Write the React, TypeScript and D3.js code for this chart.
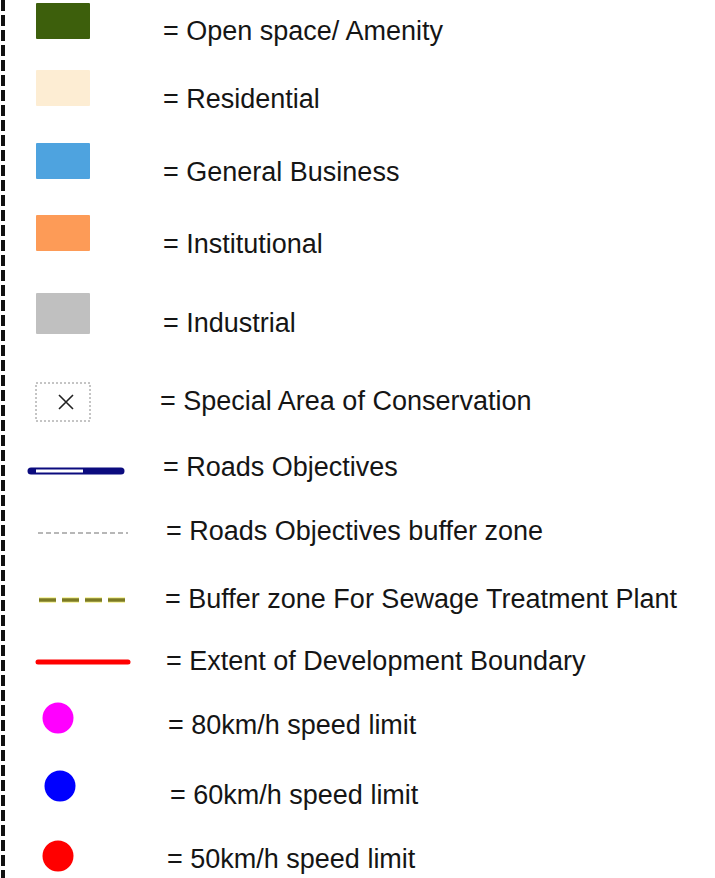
import React, { useEffect, useRef } from "react";
import * as d3 from "d3";

// land use zones (filled swatches)
const zoneLabels = [
  "Open space/ Amenity",
  "Residential",
  "General Business",
  "Institutional",
  "Industrial",
];
const zoneColors = ["#3d5f0c", "#fdedd3", "#4ea3df", "#fd9b57", "#c0c0c0"];

const conservationLabel = "Special Area of Conservation";

const lineLabels = [
  "Roads Objectives",
  "Roads Objectives buffer zone",
  "Buffer zone For Sewage Treatment Plant",
  "Extent of Development Boundary",
];

const speedLimits = [80, 60, 50];
const speedColors = ["#ff00ff", "#0000ff", "#ff0000"];

// layout (rows are not evenly spaced in the original)
const textY = [30, 98, 171, 243, 322, 400, 466, 530, 598, 660, 724, 794, 858];
const textX = [163, 163, 163, 163, 163, 160, 163, 166, 165, 166, 168, 170, 167];
const symY = [21, 88, 161, 233, 311, 402, 471, 533, 600, 662, 718, 786, 856];

const W = 715;
const H = 878;

const App = () => {
  const ref = useRef<SVGSVGElement>(null);

  useEffect(() => {
    const svg = d3.select(ref.current);
    svg.selectAll("*").remove();

    const allLabels = [
      ...zoneLabels,
      conservationLabel,
      ...lineLabels,
      ...speedLimits.map((s) => `${s}km/h speed limit`),
    ];

    const yText = d3.scaleOrdinal<string, number>().domain(allLabels).range(textY);
    const xText = d3.scaleOrdinal<string, number>().domain(allLabels).range(textX);
    const ySym = d3.scaleOrdinal<string, number>().domain(allLabels).range(symY);
    const zoneColor = d3.scaleOrdinal<string, string>().domain(zoneLabels).range(zoneColors);
    const speedColor = d3
      .scaleOrdinal<number, string>()
      .domain(speedLimits)
      .range(speedColors);

    // symbol column
    const sx = d3.scaleLinear().domain([0, 1]).range([36, 90]);

    // dashed frame on the left
    svg
      .append("line")
      .attr("x1", 3)
      .attr("x2", 3)
      .attr("y1", 0)
      .attr("y2", H)
      .attr("stroke", "#111")
      .attr("stroke-width", 4)
      .attr("stroke-dasharray", "11,4");

    // zone swatches
    svg
      .selectAll("rect.zone")
      .data(zoneLabels)
      .join("rect")
      .attr("class", "zone")
      .attr("x", sx(0))
      .attr("y", (d) => ySym(d) - 18)
      .attr("width", sx(1) - sx(0))
      .attr("height", (d, i) => (i === 4 ? 41 : 36))
      .attr("rx", 1)
      .attr("fill", (d) => zoneColor(d));

    // conservation box
    const cy = ySym(conservationLabel);
    svg
      .append("rect")
      .attr("x", sx(0))
      .attr("y", cy - 19)
      .attr("width", sx(1) - sx(0))
      .attr("height", 38)
      .attr("fill", "none")
      .attr("stroke", "#8a8a8a")
      .attr("stroke-width", 1)
      .attr("stroke-dasharray", "2,2");
    const cx = (sx(0) + sx(1)) / 2 + 3;
    const cross = d3.path();
    cross.moveTo(cx - 7, cy - 7);
    cross.lineTo(cx + 7, cy + 7);
    cross.moveTo(cx + 7, cy - 7);
    cross.lineTo(cx - 7, cy + 7);
    svg
      .append("path")
      .attr("d", cross.toString())
      .attr("stroke", "#222")
      .attr("stroke-width", 1.6)
      .attr("fill", "none");

    // line symbols
    const line = d3.line<[number, number]>();
    const [roads, roadsBuffer, sewage, extent] = lineLabels;

    svg
      .append("path")
      .attr("d", line([[31, ySym(roads)], [121, ySym(roads)]]))
      .attr("stroke", "#0b0b7e")
      .attr("stroke-width", 7)
      .attr("stroke-linecap", "round");
    svg
      .append("path")
      .attr("d", line([[36, ySym(roads)], [83, ySym(roads)]]))
      .attr("stroke", "#ffffff")
      .attr("stroke-width", 3);

    svg
      .append("path")
      .attr("d", line([[38, ySym(roadsBuffer)], [128, ySym(roadsBuffer)]]))
      .attr("stroke", "#a0a0a0")
      .attr("stroke-width", 1.5)
      .attr("stroke-dasharray", "5,3");

    svg
      .append("path")
      .attr("d", line([[39, ySym(sewage)], [127, ySym(sewage)]]))
      .attr("stroke", "#f2f070")
      .attr("stroke-width", 6)
      .attr("stroke-dasharray", "17,6")
      .attr("opacity", 0.6);
    svg
      .append("path")
      .attr("d", line([[39, ySym(sewage)], [127, ySym(sewage)]]))
      .attr("stroke", "#7c7a22")
      .attr("stroke-width", 3.5)
      .attr("stroke-dasharray", "17,6");

    svg
      .append("path")
      .attr("d", line([[38, ySym(extent)], [128, ySym(extent)]]))
      .attr("stroke", "#ff0000")
      .attr("stroke-width", 5)
      .attr("stroke-linecap", "round");

    // speed limit dots
    svg
      .selectAll("circle.speed")
      .data(speedLimits)
      .join("circle")
      .attr("class", "speed")
      .attr("cx", (d, i) => (i === 1 ? 60 : 58))
      .attr("cy", (d) => ySym(`${d}km/h speed limit`))
      .attr("r", 15.5)
      .attr("fill", (d) => speedColor(d));

    // labels
    svg
      .selectAll("text.label")
      .data(allLabels)
      .join("text")
      .attr("class", "label")
      .attr("x", (d) => xText(d))
      .attr("y", (d) => yText(d) + 10)
      .attr("font-family", "'Liberation Sans', Arial, sans-serif")
      .attr("font-size", "27px")
      .attr("fill", "#151515")
      .text((d) => `= ${d}`);
  }, []);

  return (
    <svg
      ref={ref}
      width={W}
      height={H}
      style={{ position: "absolute", left: 0, top: 0, background: "#fff" }}
    ></svg>
  );
};

export default App;
